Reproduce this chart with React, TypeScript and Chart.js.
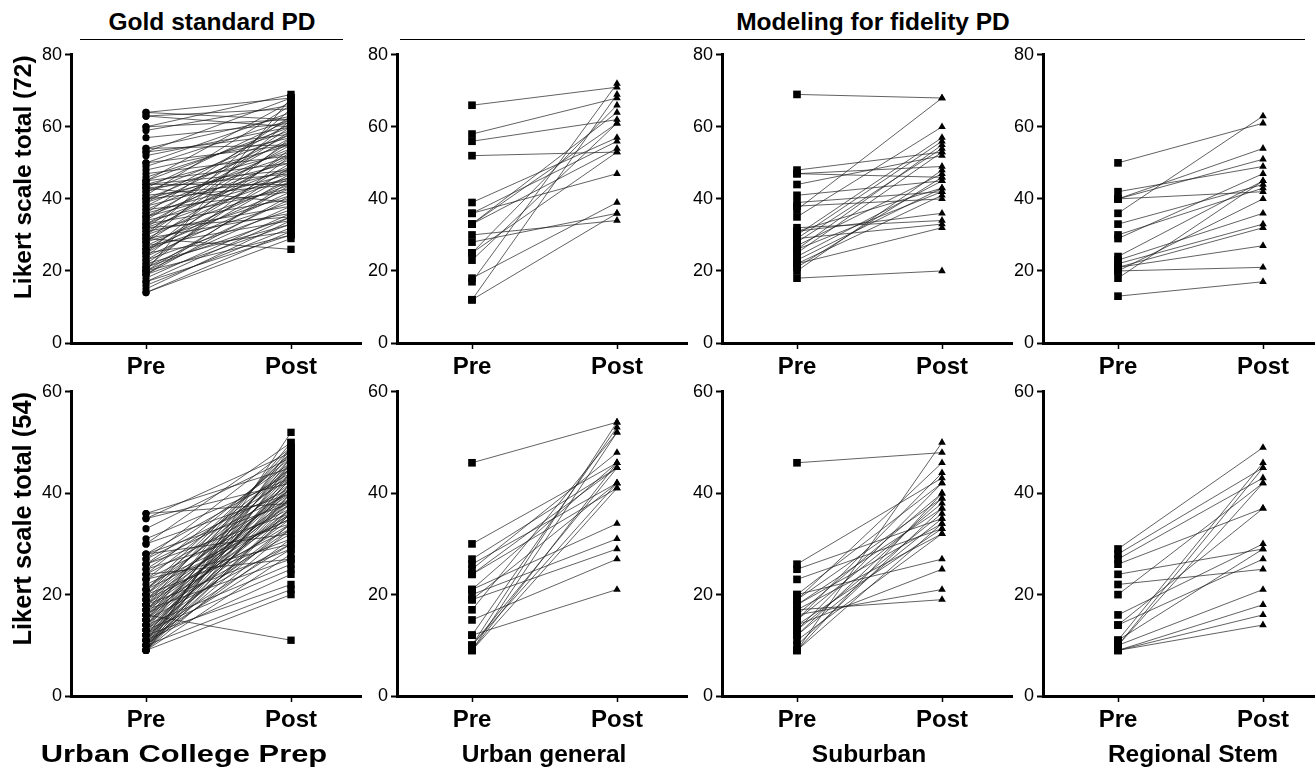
import React, { useEffect, useRef } from 'react';
import { Chart, registerables } from 'chart.js';

Chart.register(...registerables);

const FONT = "'Liberation Sans', Arial, Helvetica, sans-serif";

// category labels
const xLabels = ['Pre', 'Post'];
const columnLabels = ['Urban College Prep', 'Urban general', 'Suburban', 'Regional Stem'];
const rowTitles = ['Likert scale total (72)', 'Likert scale total (54)'];
const groupTitles = ['Gold standard PD', 'Modeling for fidelity PD'];
const yMaxTop = 80;
const yMaxBottom = 60;
const yStep = 20;

// ---- Top row (72-point scale) ----
const ucpPre72 = [64,64,63,63,60,60,59,57,54,54,53,53,52,50,50,49,48,47,46,45,45,45,44,44,43,43,42,42,41,41,40,40,40,39,39,38,38,37,37,36,36,35,35,34,34,33,33,33,32,32,31,31,30,30,30,29,29,28,28,28,27,27,26,26,25,25,25,24,24,23,23,22,22,21,21,21,20,20,20,19,19,19,17,17,16,15,14,14,44,29,20,32,26,18,43,35];
const ucpPost72 = [68,62,60,65,62,69,66,61,55,63,68,58,60,64,55,62,57,52,59,60,50,67,55,48,62,47,58,53,45,66,56,50,44,61,52,48,58,42,54,63,47,51,57,43,60,49,55,40,46,59,52,38,44,56,65,48,36,41,53,62,45,34,50,39,47,57,31,42,54,37,46,33,49,40,52,35,44,30,38,45,33,41,35,30,32,34,29,31,44,26,68,35,43,36,39,46];

const ugPre72 = [66,58,56,52,39,36,36,33,33,33,30,28,25,25,23,18,17,12,12];
const ugPost72 = [71,68,62,53,57,56,47,61,64,54,34,36,66,53,61,39,72,69,36];

const subPre72 = [69,48,47,47,44,41,39,38,37,35,32,31,31,30,29,28,27,26,25,24,23,22,22,21,20,18,26,29];
const subPost72 = [68,53,49,46,52,45,42,40,68,60,34,36,43,57,56,54,47,42,53,45,43,41,32,46,48,20,55,33];

const rsPre72 = [50,42,40,40,40,36,33,30,29,24,23,22,21,21,20,20,18,13];
const rsPost72 = [61,49,54,51,42,63,44,43,47,45,36,33,32,27,21,40,45,17];

// ---- Bottom row (54-point scale) ----
const ucpPre54 = [36,36,35,35,33,31,30,30,28,28,27,27,26,26,25,25,24,24,23,23,21,21,21,20,20,20,19,19,19,18,18,18,18,17,17,17,17,16,16,16,16,15,15,15,15,14,14,14,14,13,13,13,13,12,12,12,12,12,11,11,11,11,11,10,10,10,10,10,10,9,9,9,9,9,9,9,22,23,24,26,28,19,16,13,18,20,15,12,10,11,14,17,9,21];
const ucpPost54 = [38,45,42,48,47,43,40,50,44,38,41,49,36,46,43,34,39,47,45,37,48,35,42,40,44,31,46,38,33,43,49,36,29,41,45,34,27,39,47,11,32,44,37,30,50,42,35,26,46,40,33,48,25,38,43,30,22,45,36,41,29,47,24,34,39,44,21,31,49,37,42,28,20,33,46,52,35,30,27,40,32,41,36,37,39,48,41,34,36,43,39,38,40,45];

const ugPre54 = [46,30,27,26,25,24,21,21,20,19,17,15,12,12,10,10,10,9,9,9,24,19];
const ugPost54 = [54,46,45,42,48,41,34,46,31,29,52,27,21,53,54,42,45,52,41,46,45,42];

const subPre54 = [46,26,25,23,20,20,19,19,18,18,17,17,16,16,15,15,14,14,13,13,12,12,11,10,9,9,9];
const subPost54 = [48,43,35,33,42,27,39,46,37,34,19,32,40,21,44,38,33,25,42,36,39,35,32,37,50,34,40];

const rsPre54 = [29,28,27,26,24,22,20,16,14,11,10,10,10,9,9,9,11,14];
const rsPost54 = [49,45,43,37,29,25,42,30,27,46,45,42,21,18,16,14,29,37];

// ---- layout (px) ----
const Y_AXIS_W = 60;
const PAD_TOP = 12;
const X_AXIS_H = 50;
const PLOT_W = 291;
const PRE_OFFSET = 75;
const PAIR_GAP = 145;
const X_MIN = -PRE_OFFSET / PAIR_GAP;
const X_MAX = (PLOT_W - PRE_OFFSET) / PAIR_GAP;
const axisXs = [71, 397, 722, 1043];
const rowGeom = [
  { plotTop: 53, plotH: 290, yMax: yMaxTop },
  { plotTop: 390, plotH: 306, yMax: yMaxBottom },
];

type PanelDef = {
  pre: number[];
  post: number[];
  col: number;
  row: number;
};

const panels: PanelDef[] = [
  { pre: ucpPre72, post: ucpPost72, col: 0, row: 0 },
  { pre: ugPre72, post: ugPost72, col: 1, row: 0 },
  { pre: subPre72, post: subPost72, col: 2, row: 0 },
  { pre: rsPre72, post: rsPost72, col: 3, row: 0 },
  { pre: ucpPre54, post: ucpPost54, col: 0, row: 1 },
  { pre: ugPre54, post: ugPost54, col: 1, row: 1 },
  { pre: subPre54, post: subPost54, col: 2, row: 1 },
  { pre: rsPre54, post: rsPost54, col: 3, row: 1 },
];

function markerFor(col: number) {
  if (col === 0) return { styles: ['circle', 'rect'], radii: [3.6, 5.2] };
  return { styles: ['rect', 'triangle'], radii: [5.4, 4.4] };
}

function Panel({ def }: { def: PanelDef }) {
  const ref = useRef<HTMLCanvasElement | null>(null);
  const g = rowGeom[def.row];
  const left = axisXs[def.col] - Y_AXIS_W;
  const top = g.plotTop - PAD_TOP;
  const width = Y_AXIS_W + PLOT_W;
  const height = PAD_TOP + g.plotH + X_AXIS_H;

  useEffect(() => {
    if (!ref.current) return;
    const m = markerFor(def.col);
    const datasets = def.pre.map((p, i) => ({
      data: [
        { x: 0, y: p },
        { x: 1, y: def.post[i] },
      ],
      borderColor: 'rgba(30,30,30,0.78)',
      borderWidth: 0.9,
      pointStyle: m.styles,
      pointRadius: m.radii,
      pointHoverRadius: m.radii,
      pointBackgroundColor: '#000',
      pointBorderColor: '#000',
      pointBorderWidth: 0,
      fill: false,
      tension: 0,
      clip: false,
    }));
    const chart = new Chart(ref.current, {
      type: 'line',
      data: { datasets } as any,
      options: {
        responsive: false,
        animation: false,
        events: [],
        layout: { padding: { top: PAD_TOP, left: 0, right: 0, bottom: 0 }, autoPadding: false },
        plugins: { legend: { display: false }, tooltip: { enabled: false }, title: { display: false } },
        scales: {
          x: {
            type: 'linear',
            min: X_MIN,
            max: X_MAX,
            afterFit: (s: any) => { s.height = X_AXIS_H; },
            afterBuildTicks: (s: any) => { s.ticks = [{ value: 0 }, { value: 1 }]; },
            ticks: {
              callback: (v: any) => xLabels[v] ?? '',
              font: { family: FONT, size: 24, weight: 'bold' },
              color: '#000',
              padding: 4,
              autoSkip: false,
              maxRotation: 0,
            },
            grid: { display: true, drawOnChartArea: false, drawTicks: true, tickLength: 6, tickWidth: 1.5, tickColor: '#000' },
            border: { display: true, color: '#000', width: 3 },
          },
          y: {
            type: 'linear',
            min: 0,
            max: g.yMax,
            afterFit: (s: any) => { s.width = Y_AXIS_W; },
            ticks: { stepSize: yStep, font: { family: FONT, size: 18 }, color: '#000', padding: 3 },
            grid: { display: true, drawOnChartArea: false, drawTicks: true, tickLength: 6, tickWidth: 2, tickColor: '#000' },
            border: { display: true, color: '#000', width: 3 },
          },
        },
      } as any,
    });
    return () => chart.destroy();
  }, [def]);

  return (
    <canvas
      ref={ref}
      width={width}
      height={height}
      style={{ position: 'absolute', left, top, width, height }}
    />
  );
}

function CenteredText({ text, cx, top, size, stretch = 1 }: { text: string; cx: number; top: number; size: number; stretch?: number }) {
  return (
    <div
      style={{
        position: 'absolute',
        left: cx - 250,
        top,
        width: 500,
        textAlign: 'center',
        fontFamily: FONT,
        fontWeight: 'bold',
        fontSize: size,
        lineHeight: `${size}px`,
        whiteSpace: 'nowrap',
        color: '#000',
        transform: stretch !== 1 ? `scaleX(${stretch})` : undefined,
        transformOrigin: '50% 50%',
      }}
    >
      {text}
    </div>
  );
}

function RotatedText({ text, cx, cy, size }: { text: string; cx: number; cy: number; size: number }) {
  return (
    <div
      style={{
        position: 'absolute',
        left: cx - 170,
        top: cy - size / 2,
        width: 340,
        height: size,
        textAlign: 'center',
        fontFamily: FONT,
        fontWeight: 'bold',
        fontSize: size,
        lineHeight: `${size}px`,
        whiteSpace: 'nowrap',
        transform: 'rotate(-90deg)',
        transformOrigin: '50% 50%',
        color: '#000',
      }}
    >
      {text}
    </div>
  );
}

export default function App() {
  return (
    <div style={{ position: 'absolute', left: 0, top: 0, width: 1315, height: 769, overflow: 'hidden', background: '#fff' }}>
      {panels.map((p, i) => (
        <Panel key={i} def={p} />
      ))}
      <CenteredText text={groupTitles[0]} cx={212} top={10} size={24.5} />
      <div style={{ position: 'absolute', left: 80, top: 38.5, width: 263, height: 1.6, background: '#000' }} />
      <CenteredText text={groupTitles[1]} cx={873} top={10} size={24.5} />
      <div style={{ position: 'absolute', left: 400, top: 38.5, width: 905, height: 1.6, background: '#000' }} />
      <RotatedText text={rowTitles[0]} cx={22.5} cy={177.5} size={24.5} />
      <RotatedText text={rowTitles[1]} cx={23} cy={518.5} size={25.5} />
      <CenteredText text={columnLabels[0]} cx={184} top={742} size={24.5} stretch={1.26} />
      <CenteredText text={columnLabels[1]} cx={544} top={742} size={24.5} />
      <CenteredText text={columnLabels[2]} cx={869} top={742} size={24.5} />
      <CenteredText text={columnLabels[3]} cx={1193} top={742} size={24.5} />
    </div>
  );
}
